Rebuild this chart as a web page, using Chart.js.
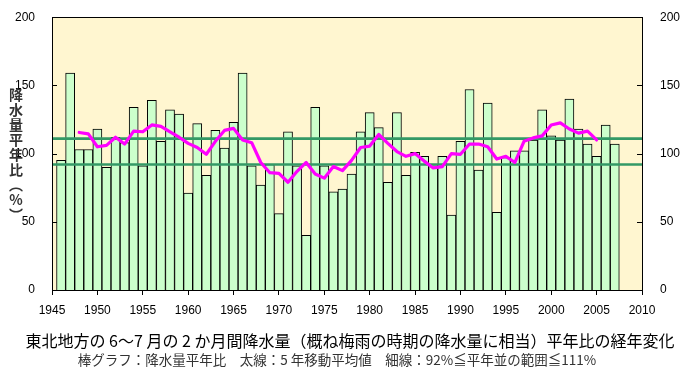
<!DOCTYPE html>
<html>
<head>
<meta charset="utf-8">
<script src="https://cdn.jsdelivr.net/npm/chart.js@4"></script>
<style>
  body { margin: 0; background: #fff; }
  #wrap { position: relative; width: 690px; height: 370px; }
  #yTitle {
    position: absolute; left: 6px; top: 88px;
    writing-mode: vertical-rl; text-orientation: upright;
    font: bold 14px "Noto Sans CJK JP", sans-serif; letter-spacing: 1px; color: #333;
  }
  #title {
    position: absolute; left: 5px; top: 328px; width: 690px; text-align: center;
    font: 16px "Noto Sans CJK JP", sans-serif; color: #000; white-space: nowrap;
  }
  #subtitle {
    position: absolute; left: -8px; top: 349px; width: 690px; text-align: center;
    font: 13.5px "Noto Sans CJK JP", sans-serif; color: #333; white-space: nowrap;
  }
</style>
</head>
<body>
<div id="wrap">
  <canvas id="chart" width="690" height="370"></canvas>
  <div id="yTitle">降水量平年比（%）</div>
  <div id="title">東北地方の 6～7 月の 2 か月間降水量（概ね梅雨の時期の降水量に相当）平年比の経年変化</div>
  <div id="subtitle">棒グラフ：降水量平年比　太線：5 年移動平均値　細線：92%≦平年並の範囲≦111%</div>
</div>
<script>
// 降水量平年比 (%) 1946-2007
const firstYear = 1946;
const ratio = [
  95,159,103,103,118, 90,112,108,134, 91,
  139,109,132,129, 71,122, 84,117,104,123,
  159, 91, 77, 92, 56,116, 91, 40,134, 91,
  72, 74, 85,116,130,119, 79,130, 84,101,
  98, 92, 98, 55,109,147, 88,137, 57, 97,
  102,102,110,132,113,110,140,118,107, 98,
  121,107
];

// 5年移動平均 1948-2005
const maFirstYear = 1948;
const movingAvg = [
  115.5,114.5,105,106,112,107,116.5,116,121,120,
  116,112,107.5,104.5,99.5,109,117,118.5,110,108,
  93.5,86,85.5,79,87,93.5,85,82,90.5,87.5,
  95,104.5,105.5,114,107.5,101.5,98,100,94.5,89.5,
  90.5,100,99.5,107,107,105,96,98,93.5,109,
  111.5,113,121,122.5,118,115,116.5,110
];

// 平年並の範囲
const normalLow = 92;
const normalHigh = 111;

const xMin = 1945, xMax = 2010;
const yMin = 0, yMax = 200;

const barData = ratio.map((v, i) => ({ x: firstYear + i, y: v }));
const maData = movingAvg.map((v, i) => ({ x: maFirstYear + i, y: v }));
const lowLine = [{ x: xMin, y: normalLow }, { x: xMax, y: normalLow }];
const highLine = [{ x: xMin, y: normalHigh }, { x: xMax, y: normalHigh }];

// 背景と枠、内向きの目盛
const plotDeco = {
  id: 'plotDeco',
  beforeDatasetsDraw(chart) {
    const { ctx, chartArea: a } = chart;
    ctx.save();
    ctx.fillStyle = '#FFF6D0';
    ctx.fillRect(a.left, a.top, a.right - a.left, a.bottom - a.top);
    ctx.restore();
  },
  afterDraw(chart) {
    const { ctx, chartArea: a } = chart;
    const ys = chart.scales.y;
    ctx.save();
    ctx.strokeStyle = '#000';
    ctx.lineWidth = 1;
    ctx.strokeRect(Math.round(a.left) + 0.5, Math.round(a.top) + 0.5,
      Math.round(a.right - a.left), Math.round(a.bottom - a.top));
    ys.ticks.forEach(t => {
      const py = Math.round(ys.getPixelForValue(t.value)) + 0.5;
      ctx.beginPath();
      ctx.moveTo(a.left, py); ctx.lineTo(a.left + 5, py);
      ctx.moveTo(a.right - 5, py); ctx.lineTo(a.right, py);
      ctx.stroke();
    });
    ctx.restore();
  }
};

const tickFont = { family: '"Liberation Sans", Arial, sans-serif', size: 12 };

new Chart(document.getElementById('chart'), {
  type: 'bar',
  data: {
    datasets: [{
      type: 'line',
      data: maData,
      borderColor: '#FF00FF',
      borderWidth: 3.2,
      pointRadius: 0,
      tension: 0,
      borderJoinStyle: 'round',
      borderCapStyle: 'round',
      order: 0
    }, {
      type: 'line',
      data: highLine,
      borderColor: '#339966',
      borderWidth: 2.6,
      pointRadius: 0,
      order: 1
    }, {
      type: 'line',
      data: lowLine,
      borderColor: '#339966',
      borderWidth: 2.6,
      pointRadius: 0,
      order: 1
    }, {
      data: barData,
      backgroundColor: '#CCFFCC',
      borderColor: '#000',
      borderWidth: 1,
      barPercentage: 1,
      categoryPercentage: 1,
      order: 2
    }]
  },
  options: {
    responsive: false,
    animation: false,
    layout: { padding: { top: 14, left: 0, right: 0, bottom: 0 } },
    plugins: { legend: { display: false }, tooltip: { enabled: false } },
    scales: {
      x: {
        type: 'linear',
        min: xMin, max: xMax,
        offset: false,
        grid: { offset: false, drawOnChartArea: false, drawTicks: true, tickLength: 5, color: '#000' },
        border: { color: '#000' },
        ticks: { stepSize: 5, color: '#000', font: tickFont, padding: 8, maxRotation: 0, callback: v => String(v) },
        afterFit: s => { s.height = 80; }
      },
      y: {
        position: 'left',
        min: yMin, max: yMax,
        grid: { display: false },
        border: { color: '#000' },
        ticks: { stepSize: 50, color: '#000', font: tickFont, padding: 9 },
        afterFit: s => { s.width = 52; }
      },
      y2: {
        position: 'right',
        min: yMin, max: yMax,
        grid: { display: false },
        border: { color: '#000' },
        ticks: { stepSize: 50, color: '#000', font: tickFont, padding: 10 },
        afterFit: s => { s.width = 48; }
      }
    }
  },
  plugins: [plotDeco]
});
</script>
</body>
</html>
